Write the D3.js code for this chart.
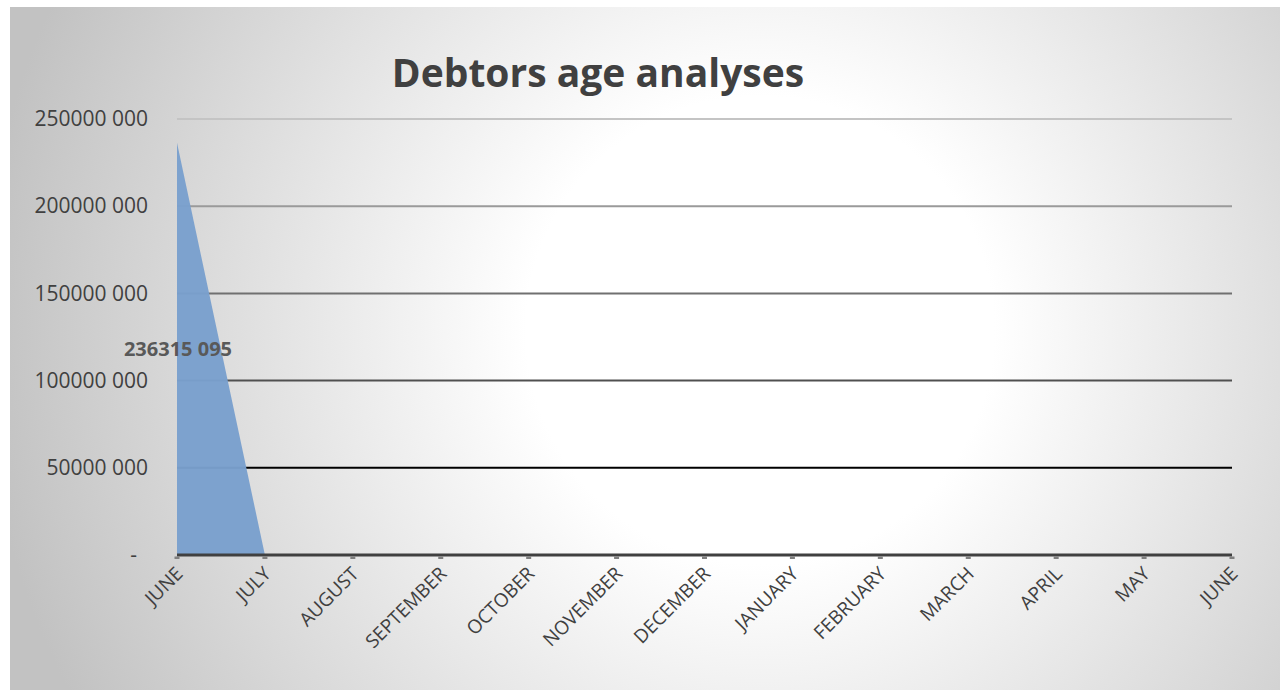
<!DOCTYPE html>
<html><head><meta charset="utf-8">
<script src="https://cdn.jsdelivr.net/npm/d3@7"></script>
<style>
html,body{margin:0;padding:0;background:#fff;}
svg{display:block;font-family:"Open Sans",sans-serif;}
</style></head>
<body><svg id="c" width="1280" height="690"></svg>
<script>
const categories = ["JUNE","JULY","AUGUST","SEPTEMBER","OCTOBER","NOVEMBER","DECEMBER","JANUARY","FEBRUARY","MARCH","APRIL","MAY","JUNE "];
const values = [236315095,0,0,0,0,0,0,0,0,0,0,0,0];
const yTicks = [0,50000000,100000000,150000000,200000000,250000000];
const gridColors = ["#404040","#000000","#505050","#707070","#9a9a9a","#c4c4c4"];
const title = "Debtors age analyses";

const svg = d3.select("#c");
const defs = svg.append("defs");
const rg = defs.append("radialGradient").attr("id","bg")
  .attr("gradientUnits","userSpaceOnUse").attr("cx",760).attr("cy",330).attr("r",780);
rg.append("stop").attr("offset","0%").attr("stop-color","#ffffff");
rg.append("stop").attr("offset","30%").attr("stop-color","#ffffff");
rg.append("stop").attr("offset","100%").attr("stop-color","#c2c2c2");

svg.append("rect").attr("x",10).attr("y",7).attr("width",1270).attr("height",683).attr("fill","url(#bg)");

const m = {l:177, r:1232, t:119, b:555};
const x = d3.scalePoint().domain(d3.range(categories.length)).range([m.l, m.r]);
const y = d3.scaleLinear().domain([0,250000000]).range([m.b, m.t]);
const fmt = v => d3.format(",")(v).replace(/,(\d{3})$/," $1").replace(/,/g,"");

// gridlines
svg.append("g").selectAll("line").data(yTicks.slice(1)).join("line")
  .attr("x1",m.l).attr("x2",m.r)
  .attr("y1",d=>y(d)).attr("y2",d=>y(d))
  .attr("stroke",(d,i)=>gridColors[i+1]).attr("stroke-width",2);

// area
const area = d3.area().x((d,i)=>x(i)).y0(y(0)).y1(d=>y(d));
svg.append("path").datum(values).attr("d",area)
  .attr("fill","#7aa0cd").attr("fill-opacity",0.97);

// y axis labels
const yAxis = d3.axisLeft(y).tickValues(yTicks).tickSize(0).tickPadding(0)
  .tickFormat(d=> d===0 ? "-" : fmt(d));
const ya = svg.append("g").attr("transform",`translate(148,0)`).call(yAxis);
ya.select(".domain").remove();
ya.selectAll("text").attr("font-size",21).attr("fill","#404040")
  .attr("font-family","'Open Sans',sans-serif")
  .attr("dx",d=>d===0?-11:0);

// x axis line
svg.append("line").attr("x1",m.l).attr("x2",m.r).attr("y1",y(0)).attr("y2",y(0))
  .attr("stroke","#404040").attr("stroke-width",3);
// ticks
svg.append("g").selectAll("rect").data(d3.range(categories.length)).join("rect")
  .attr("x",i=>x(i)-2.5).attr("y",y(0)+1.5).attr("width",5).attr("height",2.5)
  .attr("fill","#7f7f7f");

// x labels
svg.append("g").selectAll("text").data(categories).join("text")
  .attr("transform",(d,i)=>`translate(${x(i)+7},${y(0)+20}) rotate(-45)`)
  .attr("text-anchor","end").attr("font-size",19).attr("fill","#404040")
  .text(d=>d.trim());

// data label
svg.append("text").attr("x",x(0)+1).attr("y",y(values[0]/2)).attr("dy","0.35em")
  .attr("text-anchor","middle").attr("font-size",20).attr("font-weight","bold")
  .attr("fill","#595959").text(fmt(values[0]));

// title
svg.append("text").attr("x",598).attr("y",87).attr("text-anchor","middle")
  .attr("font-size",39).attr("font-weight","bold").attr("fill","#404040").text(title);
</script></body></html>
